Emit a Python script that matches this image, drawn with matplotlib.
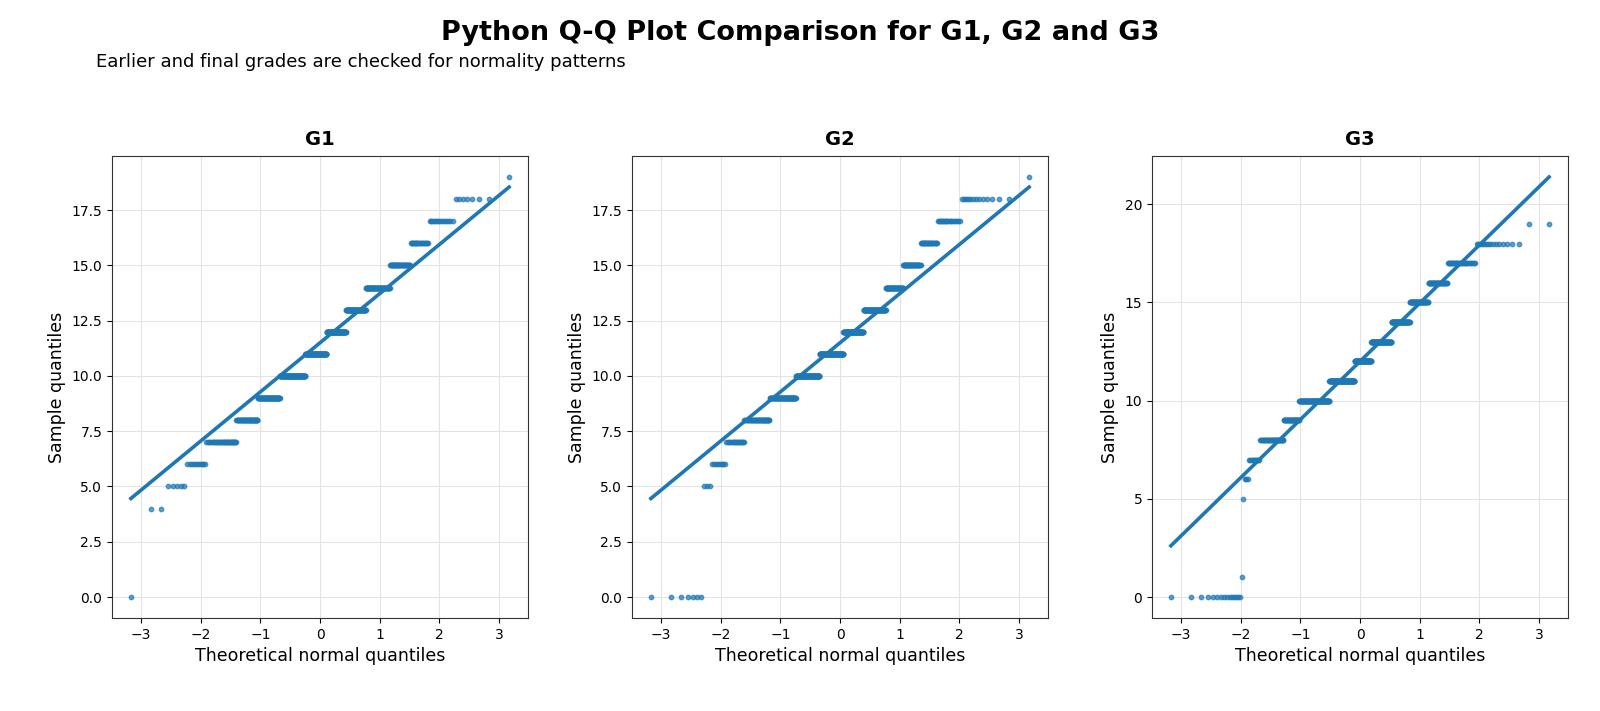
"""
Q-Q plots of the three grade columns (G1, G2, G3) against a normal distribution.
Grades are stored as value counts and expanded into the sorted sample.
The reference line goes through the first and third quartiles.
"""
from statistics import NormalDist
import numpy as np
import matplotlib
matplotlib.use('Agg')
import matplotlib.pyplot as plt

# grade value -> number of students (649 students per column)
g1_values = [0, 4, 5, 6, 7, 8, 9, 10, 11, 12, 13, 14, 15, 16, 17, 18, 19]
g1_counts = [1, 2, 5, 10, 34, 44, 66, 99, 92, 81, 71, 66, 36, 20, 14, 7, 1]

g2_values = [0, 5, 6, 7, 8, 9, 10, 11, 12, 13, 14, 15, 16, 17, 18, 19]
g2_counts = [7, 3, 8, 17, 42, 72, 88, 102, 85, 81, 50, 37, 24, 19, 13, 1]

g3_values = [0, 1, 5, 6, 7, 8, 9, 10, 11, 12, 13, 14, 15, 16, 17, 18, 19]
g3_counts = [15, 1, 1, 3, 10, 35, 35, 97, 104, 72, 82, 63, 49, 36, 29, 15, 2]

panels = [('G1', g1_values, g1_counts),
          ('G2', g2_values, g2_counts),
          ('G3', g3_values, g3_counts)]

BLUE = '#1f77b4'
nd = NormalDist()


def qq_data(values, counts):
    sample = np.sort(np.repeat(values, counts)).astype(float)
    n = len(sample)
    theo = np.array([nd.inv_cdf((i - 0.5) / n) for i in range(1, n + 1)])
    return theo, sample


def quartile_line(sample):
    q1, q3 = np.percentile(sample, [25, 75])
    z1, z3 = nd.inv_cdf(0.25), nd.inv_cdf(0.75)
    slope = (q3 - q1) / (z3 - z1)
    return slope, q1 - slope * z1


fig = plt.figure(figsize=(16, 7.11), dpi=100)
fig.suptitle('Python Q-Q Plot Comparison for G1, G2 and G3',
             fontsize=19.5, fontweight='bold', x=0.5, y=0.972)
fig.text(0.06, 0.913, 'Earlier and final grades are checked for normality patterns',
         fontsize=13, ha='left', va='center')

left, width, gap = 0.07, 0.26, 0.065
bottom, height = 0.1308, 0.6498
for k, (name, vals, cnts) in enumerate(panels):
    ax = fig.add_axes([left + k * (width + gap), bottom, width, height])
    x, y = qq_data(vals, cnts)
    slope, intercept = quartile_line(y)
    ax.scatter(x, y, s=10, color=BLUE, alpha=0.7, zorder=2)
    xl = np.array([x.min(), x.max()])
    ax.plot(xl, intercept + slope * xl, color=BLUE, lw=2.6, zorder=3)
    ax.set_title(name, fontsize=14, fontweight='bold', pad=8)
    ax.set_xlabel('Theoretical normal quantiles', fontsize=12.5)
    ax.set_ylabel('Sample quantiles', fontsize=12.5)
    ax.tick_params(labelsize=10)
    ax.grid(True, color='#e3e3e3', lw=0.8)
    ax.set_axisbelow(True)
    for sp in ax.spines.values():
        sp.set_color('#333333')

fig.savefig('out.png', dpi=100)
